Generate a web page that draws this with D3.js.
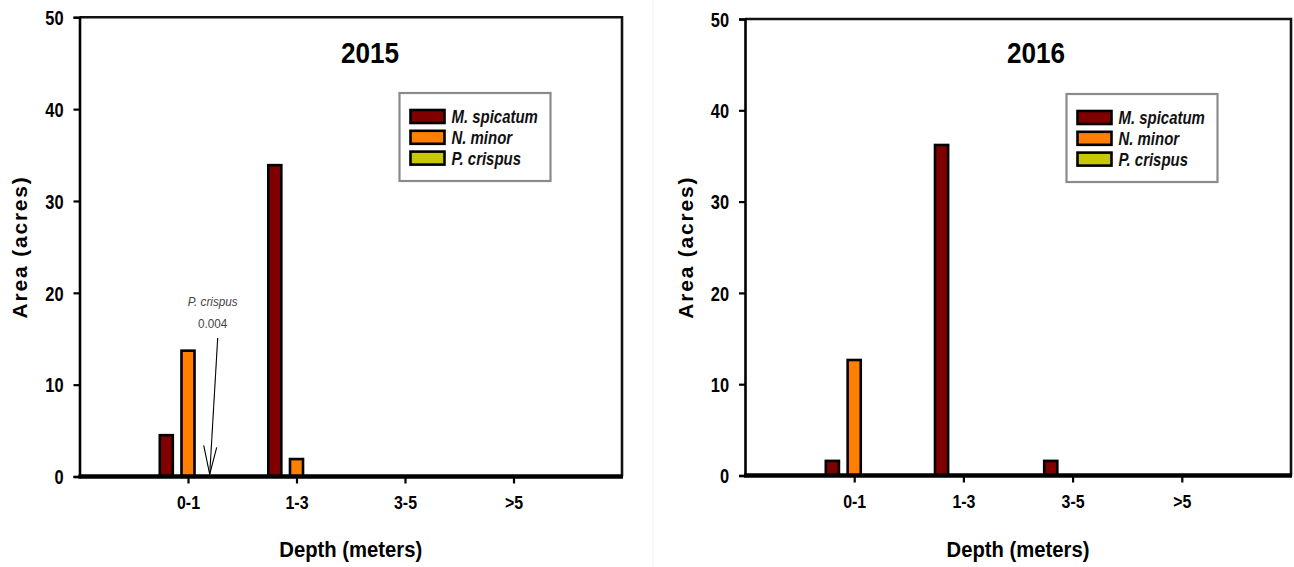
<!DOCTYPE html>
<html>
<head>
<meta charset="utf-8">
<script src="https://cdn.jsdelivr.net/npm/d3@7"></script>
<style>
  html, body { margin: 0; padding: 0; background: #fff; }
  svg { display: block; }
</style>
</head>
<body>
<svg id="chart" width="1294" height="567"></svg>
<script>
// ---- data ----
const categories = ["0-1", "1-3", "3-5", ">5"];
const species = ["M. spicatum", "N. minor", "P. crispus"];
const speciesColors = ["#800000", "#ff8000", "#c8c800"];
const yTicks = [0, 10, 20, 30, 40, 50];
const years = ["2015", "2016"];

const spicatum2015 = [4.5, 33.9, 0, 0];
const minor2015 = [13.7, 1.9, 0, 0];
const crispus2015 = [0.004, 0, 0, 0];

const spicatum2016 = [1.6, 36.2, 1.6, 0];
const minor2016 = [12.65, 0, 0, 0];
const crispus2016 = [0, 0, 0, 0];

const annotationLabel = "P. crispus";
const annotationValue = "0.004";

// ---- drawing ----
const svg = d3.select("#chart");
const SANS = "'Liberation Sans', Arial, sans-serif";

// emulate a condensed face by squeezing glyphs
function condense(sel, f) {
  sel.each(function () {
    const w = this.getComputedTextLength();
    d3.select(this).attr("textLength", w * f).attr("lengthAdjust", "spacingAndGlyphs");
  });
}

// faint separator between the two panels
svg.append("line").attr("x1", 653).attr("x2", 653).attr("y1", 0).attr("y2", 567)
  .attr("stroke", "#f2f2f2").attr("stroke-width", 1);

function drawPanel(cfg, seriesList) {
  const g = svg.append("g");
  const x = d3.scaleLinear().domain([0, 5]).range([cfg.x0, cfg.x1]);
  const y = d3.scaleLinear().domain([0, 50]).range([cfg.yZero, cfg.yTop]);

  const offsets = [-0.2, 0, 0.2];
  const bw = 0.12;

  // bars
  seriesList.forEach((vals, si) => {
    g.append("g").selectAll("rect")
      .data(vals.map((v, i) => ({ v, i })).filter(d => d.v > 0.01))
      .join("rect")
      .attr("x", d => x(d.i + 1 + offsets[si] - bw / 2))
      .attr("width", d => x(d.i + 1 + offsets[si] + bw / 2) - x(d.i + 1 + offsets[si] - bw / 2))
      .attr("y", d => y(d.v))
      .attr("height", d => y(0) - y(d.v))
      .attr("fill", speciesColors[si])
      .attr("stroke", "#000")
      .attr("stroke-width", 2.6);
  });

  // frame top and right
  g.append("path")
    .attr("d", `M${cfg.x0},${cfg.yTop}H${cfg.x1}V${cfg.yZero}`)
    .attr("fill", "none").attr("stroke", "#111").attr("stroke-width", 2.6);

  // y axis
  const yAxis = d3.axisLeft(y).tickValues(yTicks).tickSize(6).tickPadding(10).tickFormat(d3.format("d"));
  const ya = g.append("g").attr("transform", `translate(${cfg.x0},0)`).call(yAxis);
  ya.select(".domain").attr("stroke", "#000").attr("stroke-width", 2.6);
  ya.selectAll(".tick line").attr("stroke", "#000").attr("stroke-width", 2.2);
  ya.selectAll(".tick text").attr("font-family", SANS).attr("font-weight", "bold")
    .attr("font-size", 20).attr("fill", "#000").attr("dy", "0.36em")
    .attr("x", -16).call(condense, 0.82);

  // x axis at zero
  const xAxis = d3.axisBottom(x).tickValues([1, 2, 3, 4]).tickSize(7).tickPadding(12)
    .tickFormat(d => categories[d - 1]);
  const xa = g.append("g").attr("transform", `translate(0,${cfg.yZero})`).call(xAxis);
  xa.select(".domain").remove();
  xa.selectAll(".tick line").attr("stroke", "#000").attr("stroke-width", 2.2);
  xa.selectAll(".tick text").attr("font-family", SANS).attr("font-weight", "bold")
    .attr("font-size", 18.5).attr("fill", "#000").attr("dy", "0.71em").call(condense, 0.86);
  g.append("line").attr("x1", cfg.x0 - 1).attr("x2", cfg.x1 + 1)
    .attr("y1", y(0)).attr("y2", y(0)).attr("stroke", "#000").attr("stroke-width", 4.5);

  // title
  g.append("text").attr("x", cfg.titleX).attr("y", 63).attr("text-anchor", "middle")
    .attr("font-family", SANS).attr("font-weight", "bold").attr("font-size", 29)
    .text(cfg.title).call(condense, 0.9);

  // axis titles
  g.append("text").attr("x", (cfg.x0 + cfg.x1) / 2).attr("y", 557).attr("text-anchor", "middle")
    .attr("font-family", SANS).attr("font-weight", "bold").attr("font-size", 22)
    .text("Depth (meters)").call(condense, 0.92);
  g.append("text")
    .attr("transform", `translate(${cfg.yLabelX},${(cfg.yTop + cfg.yZero) / 2}) rotate(-90)`)
    .attr("text-anchor", "middle")
    .attr("font-family", SANS).attr("font-weight", "bold").attr("font-size", 21)
    .attr("letter-spacing", 1.8)
    .text("Area (acres)");

  // legend
  const lg = g.append("g").attr("transform", `translate(${cfg.legX},${cfg.legY})`);
  lg.append("rect").attr("x", 0).attr("y", 0).attr("width", 151).attr("height", 88)
    .attr("fill", "#fff").attr("stroke", "#8a8a8a").attr("stroke-width", 2.2);
  species.forEach((s, i) => {
    lg.append("rect").attr("x", 11).attr("y", 17 + i * 20.8).attr("width", 34).attr("height", 13)
      .attr("fill", speciesColors[i]).attr("stroke", "#000").attr("stroke-width", 2.6);
    lg.append("text").attr("x", 52).attr("y", 30 + i * 20.8)
      .attr("font-family", SANS).attr("font-weight", "bold").attr("font-style", "italic")
      .attr("font-size", 18).attr("fill", "#111").text(s).call(condense, 0.83);
  });

  return { x, y, g };
}

const left = drawPanel({ x0: 79.5, x1: 622, yTop: 17.3, yZero: 476.5, title: years[0], titleX: 370,
  yLabelX: 27, legX: 399.5, legY: 93 }, [spicatum2015, minor2015, crispus2015]);
const right = drawPanel({ x0: 745, x1: 1291, yTop: 19, yZero: 475.5, title: years[1], titleX: 1036,
  yLabelX: 693, legX: 1066.5, legY: 94 }, [spicatum2016, minor2016, crispus2016]);

// annotation for the tiny P. crispus value in 2015
(function () {
  const { x, y, g } = left;
  const tipX = x(1 + 0.2), tipY = y(crispus2015[0]) - 2;
  const tailX = tipX + 8, tailY = 338;
  const ag = g.append("g");
  ag.append("line").attr("x1", tailX).attr("y1", tailY).attr("x2", tipX).attr("y2", tipY)
    .attr("stroke", "#000").attr("stroke-width", 1.1);
  ag.append("path")
    .attr("d", `M${tipX - 6},${tipY - 29}L${tipX},${tipY}L${tipX + 7},${tipY - 27}`)
    .attr("fill", "none").attr("stroke", "#000").attr("stroke-width", 1.1);
  ag.append("text").attr("x", tailX - 5).attr("y", 306).attr("text-anchor", "middle")
    .attr("font-family", SANS).attr("font-style", "italic").attr("font-size", 13)
    .attr("fill", "#444").text(annotationLabel).call(condense, 0.9);
  ag.append("text").attr("x", tailX - 5).attr("y", 328).attr("text-anchor", "middle")
    .attr("font-family", SANS).attr("font-size", 13)
    .attr("fill", "#444").text(annotationValue).call(condense, 0.9);
})();
</script>
</body>
</html>
